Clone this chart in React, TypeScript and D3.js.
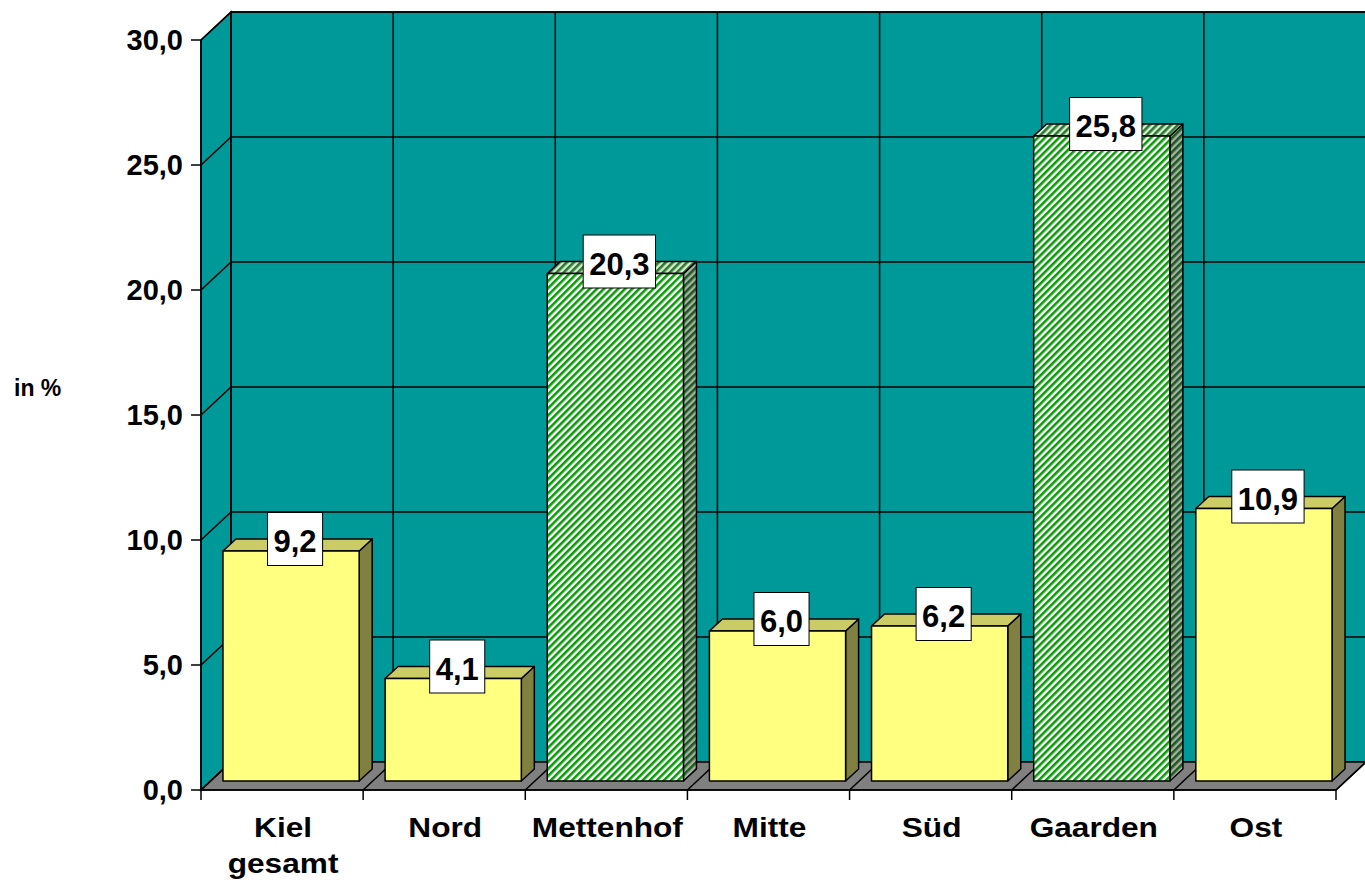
import React from 'react';
import * as d3 from 'd3';

const categories = ['Kiel gesamt', 'Nord', 'Mettenhof', 'Mitte', 'Süd', 'Gaarden', 'Ost'];
const values = [9.2, 4.1, 20.3, 6.0, 6.2, 25.8, 10.9];
const hatched = [false, false, true, false, false, true, false];
const yTicks = [0, 5, 10, 15, 20, 25, 30];

const W = 1365, H = 884;
const left = 201, right = 1336, top = 40, bottom = 790;
const depthX = 30, depthY = -28;
const fmt = (v: number) => v.toFixed(1).replace('.', ',');
// rough Arial bold advance widths
const textW = (s: string, fs: number) => s.split('').reduce((a, ch) => a + (ch === ',' ? 0.278 : 0.556), 0) * fs;

export default function App() {
  const x = d3.scaleBand().domain(categories).range([left, right]).paddingInner(0.16).paddingOuter(0.08);
  const y = d3.scaleLinear().domain([0, 30]).range([bottom, top]);
  const step = x.step();
  const bounds = d3.range(categories.length + 1).map(i => left + i * step);
  const font = '"Liberation Sans", Arial, sans-serif';
  const f1 = [9, -9], f2 = [22, -21];

  return (
    <svg width={W} height={H} style={{ position: 'absolute', left: 0, top: 0, background: '#fff' }}>
      <defs>
        <pattern id="hFront" width="5" height="5" patternUnits="userSpaceOnUse" patternTransform="rotate(45)">
          <rect width="5" height="5" fill="#ffffff" />
          <rect width="2.6" height="5" fill="#0a9a0a" />
        </pattern>
        <pattern id="hTop" width="5" height="5" patternUnits="userSpaceOnUse" patternTransform="rotate(45)">
          <rect width="5" height="5" fill="#d8ecd8" />
          <rect width="2.6" height="5" fill="#2a7a2a" />
        </pattern>
        <pattern id="hSide" width="5" height="5" patternUnits="userSpaceOnUse" patternTransform="rotate(45)">
          <rect width="5" height="5" fill="#a8b0a8" />
          <rect width="2.6" height="5" fill="#1c5a1c" />
        </pattern>
      </defs>

      {/* walls */}
      <polygon
        points={`${left},${bottom} ${left},${top} ${left + depthX},${top + depthY} ${left + depthX},${bottom + depthY}`}
        fill="#009999" stroke="#000" strokeWidth={1.5}
      />
      <rect x={left + depthX} y={top + depthY} width={W - left - depthX + 2} height={bottom - top} fill="#009999" stroke="#000" strokeWidth={1.5} />
      {yTicks.map(t => (
        <g key={'g' + t}>
          <line x1={left + depthX} x2={W} y1={y(t) + depthY} y2={y(t) + depthY} stroke="#000" strokeWidth={1.5} />
          <line x1={left} x2={left + depthX} y1={y(t)} y2={y(t) + depthY} stroke="#000" strokeWidth={1.5} />
        </g>
      ))}
      {bounds.map((b, i) => (
        <line key={'v' + i} x1={b + depthX} x2={b + depthX} y1={top + depthY} y2={bottom + depthY} stroke="#000" strokeWidth={1.5} />
      ))}

      {/* floor */}
      <polygon
        points={`${left},${bottom} ${right},${bottom} ${right + depthX},${bottom + depthY} ${left + depthX},${bottom + depthY}`}
        fill="#808080" stroke="#000" strokeWidth={1.5}
      />
      {bounds.map((b, i) => (
        <line key={'f' + i} x1={b} x2={b + depthX} y1={bottom} y2={bottom + depthY} stroke="#000" strokeWidth={1.5} />
      ))}

      {/* bars */}
      {categories.map((c, i) => {
        const x0 = x(c)!, x1 = x0 + x.bandwidth();
        const yv = y(values[i]);
        const fx0 = x0 + f1[0], fx1 = x1 + f1[0];
        const fyT = yv + f1[1], fyB = bottom + f1[1];
        const bx1 = x1 + f2[0], bx0 = x0 + f2[0], byT = yv + f2[1], byB = bottom + f2[1];
        const h = hatched[i];
        return (
          <g key={c} stroke="#000" strokeWidth={1.5} strokeLinejoin="round">
            <polygon points={`${fx1},${fyT} ${bx1},${byT} ${bx1},${byB} ${fx1},${fyB}`} fill={h ? 'url(#hSide)' : '#808040'} />
            <polygon points={`${fx0},${fyT} ${bx0},${byT} ${bx1},${byT} ${fx1},${fyT}`} fill={h ? 'url(#hTop)' : '#cccc66'} />
            <rect x={fx0} y={fyT} width={fx1 - fx0} height={fyB - fyT} fill={h ? 'url(#hFront)' : '#ffff80'} />
          </g>
        );
      })}

      {/* data labels */}
      {categories.map((c, i) => {
        const cx = x(c)! + x.bandwidth() / 2 + 13;
        const cy = y(values[i]) - 21;
        const label = fmt(values[i]);
        const w = textW(label, 31) + 12;
        return (
          <g key={'l' + c}>
            <rect x={cx - w / 2} y={cy - 26.5} width={w} height={53} fill="#fff" stroke="#000" strokeWidth={1} />
            <text x={cx} y={cy + 13} textAnchor="middle" fontFamily={font} fontWeight="bold" fontSize={31} fill="#000">{label}</text>
          </g>
        );
      })}

      {/* axes */}
      <line x1={left} x2={left} y1={top} y2={bottom} stroke="#000" strokeWidth={1.5} />
      <line x1={left} x2={right} y1={bottom} y2={bottom} stroke="#000" strokeWidth={1.5} />
      {yTicks.map(t => (
        <g key={'t' + t}>
          <line x1={left - 10} x2={left} y1={y(t)} y2={y(t)} stroke="#000" strokeWidth={1.5} />
          <text x={left - 18} y={y(t) + 10} textAnchor="end" fontFamily={font} fontWeight="bold" fontSize={29} fill="#000">{fmt(t)}</text>
        </g>
      ))}
      {bounds.map((b, i) => (
        <line key={'xt' + i} x1={b} x2={b} y1={bottom} y2={bottom + 10} stroke="#000" strokeWidth={1.5} />
      ))}
      {categories.map(c => {
        const cx = x(c)! + x.bandwidth() / 2 + 1;
        const parts = c.split(' ');
        return (
          <text key={'c' + c} transform={`translate(${cx},0) scale(1.13,1)`} textAnchor="middle" fontFamily={font} fontWeight="bold" fontSize={28} fill="#000">
            {parts.map((p, j) => (
              <tspan key={j} x={0} y={837 + j * 36}>{p}</tspan>
            ))}
          </text>
        );
      })}
      <text x={14} y={396} fontFamily={font} fontWeight="bold" fontSize={23} fill="#000">in %</text>
    </svg>
  );
}
